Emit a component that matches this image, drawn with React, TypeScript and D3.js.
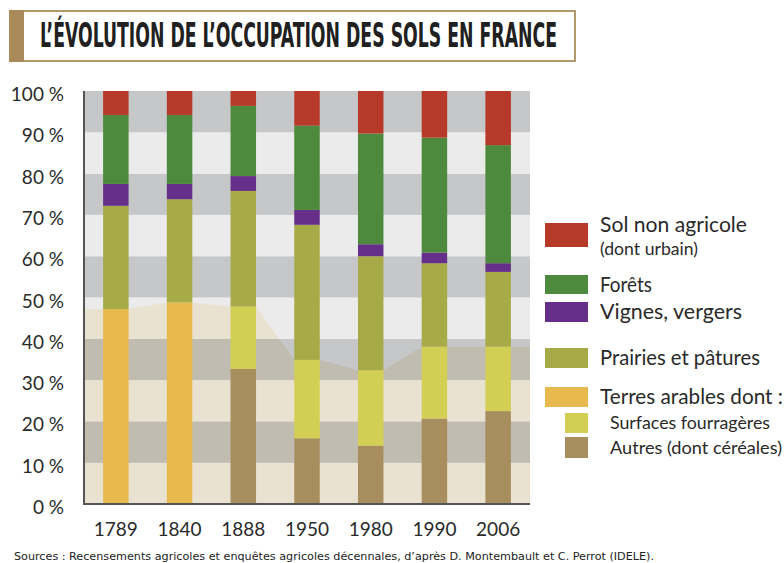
import React, { useEffect, useRef, useState } from 'react';
import * as d3 from 'd3';

const years = ['1789', '1840', '1888', '1950', '1980', '1990', '2006'];
// segment values in % (bottom to top)
const terresArables = [47.2, 48.8, 0, 0, 0, 0, 0];
const autres = [0, 0, 32.7, 15.9, 14.1, 20.7, 22.5];
const fourrageres = [0, 0, 15.1, 19.0, 18.3, 17.4, 15.6];
const prairies = [25.0, 25.0, 28.0, 32.7, 27.6, 20.2, 18.1];
const vignes = [5.3, 3.7, 3.6, 3.6, 2.9, 2.6, 2.1];
const forets = [16.7, 16.7, 17.0, 20.4, 26.8, 27.8, 28.6];
const solNonAgricole = [5.8, 5.8, 3.6, 8.4, 10.3, 11.3, 13.1];
const yTicks = [0, 10, 20, 30, 40, 50, 60, 70, 80, 90, 100];

const keys = ['terres', 'autres', 'fourrageres', 'prairies', 'vignes', 'forets', 'sol'];
const colors: Record<string, string> = {
  terres: '#e8b94f',
  autres: '#a88e5f',
  fourrageres: '#d3cf55',
  prairies: '#a6aa47',
  vignes: '#66308a',
  forets: '#4e8a3d',
  sol: '#b7392a',
};

const legendKeys = ['sol', 'forets', 'vignes', 'prairies', 'terres', 'fourrageres', 'autres'];
const legendLabels = [
  'Sol non agricole',
  'Forêts',
  'Vignes, vergers',
  'Prairies et pâtures',
  'Terres arables dont :',
  'Surfaces fourragères',
  'Autres (dont céréales)',
];
const legendSub = '(dont urbain)';
const titleText = 'L’ÉVOLUTION DE L’OCCUPATION DES SOLS EN FRANCE';
const sourceText = 'Sources : Recensements agricoles et enquêtes agricoles décennales, d’après D. Montembault et C. Perrot (IDELE).';

const FONT = 'Lato, "Open Sans", sans-serif';
const NARROW = '"Liberation Sans Narrow", "DejaVu Sans Condensed", sans-serif';

export default function App() {
  const left = 84, right = 530, top = 91, bottom = 504;
  const x = d3.scaleBand<string>().domain(years).range([left, right]).paddingInner(0.6).paddingOuter(0.3);
  const y = d3.scaleLinear().domain([0, 100]).range([bottom, top]);

  const titleRef = useRef<SVGTextElement>(null);
  const [titleScale, setTitleScale] = useState(1);
  useEffect(() => {
    if (titleRef.current) {
      const len = titleRef.current.getComputedTextLength();
      if (len > 0) setTitleScale(517 / len);
    }
  }, []);

  const rows = years.map((yr, i) => ({
    year: yr,
    terres: terresArables[i],
    autres: autres[i],
    fourrageres: fourrageres[i],
    prairies: prairies[i],
    vignes: vignes[i],
    forets: forets[i],
    sol: solNonAgricole[i],
  }));
  const series = d3.stack<any>().keys(keys)(rows);

  // arable total outline across the background
  const arableTotals = years.map((_, i) => terresArables[i] + autres[i] + fourrageres[i]);
  const pts: [number, number][] = [];
  pts.push([left, arableTotals[0]]);
  years.forEach((yr, i) => {
    const x0 = x(yr)!;
    pts.push([x0, arableTotals[i]]);
    pts.push([x0 + x.bandwidth(), arableTotals[i]]);
  });
  pts.push([right, arableTotals[arableTotals.length - 1]]);
  const areaGen = d3.area<[number, number]>().x(d => d[0]).y0(y(0)).y1(d => y(d[1]));
  const areaPath = areaGen(pts) || '';

  const bands = d3.range(10).map(i => ({ v0: i * 10, v1: i * 10 + 10, dark: i % 2 === 1 }));

  // legend layout
  const lgY = [223, 275, 302, 348, 387, 413, 437];
  const lgH = [24, 19, 20, 20, 20, 20, 21];
  const lgW = [147, 52, 142, 160, 183, 160, 172];
  const lgSmall = [false, false, false, false, false, true, true];

  return (
    <svg width={784} height={563} style={{ position: 'absolute', left: 0, top: 0, background: '#fff' }}>
      <defs>
        <clipPath id="arableClip">
          <path d={areaPath} />
        </clipPath>
      </defs>
      {/* Title */}
      <rect x={10} y={11} width={565} height={50} fill="#fff" stroke="#b39a6e" strokeWidth={2} />
      <rect x={9} y={10} width={15} height={52} fill="#a98a5a" />
      <g transform={`translate(40,47) scale(${titleScale},1)`}>
        <text ref={titleRef} x={0} y={0} fontFamily={NARROW} fontWeight="bold" fontSize={33} fill="#202020">
          {titleText}
        </text>
      </g>

      {/* background bands */}
      {bands.map(b => (
        <rect key={'b' + b.v0} x={left} y={y(b.v1)} width={right - left} height={y(b.v0) - y(b.v1)}
          fill={b.dark ? '#c6c7c9' : '#ebebec'} />
      ))}
      <g clipPath="url(#arableClip)">
        {bands.map(b => (
          <rect key={'bb' + b.v0} x={left} y={y(b.v1)} width={right - left} height={y(b.v0) - y(b.v1)}
            fill={b.dark ? '#c0bcb0' : '#e9e2d1'} />
        ))}
      </g>

      {/* bars */}
      {series.map(s => (
        <g key={s.key} fill={colors[s.key]}>
          {s.map((d, i) => (
            d[1] - d[0] > 0 ? (
              <rect key={i} x={x(years[i])!} y={y(d[1])} width={x.bandwidth()} height={y(d[0]) - y(d[1])} />
            ) : null
          ))}
        </g>
      ))}

      {/* axes */}
      <line x1={left} x2={left} y1={top} y2={bottom + 1} stroke="#555" strokeWidth={2} />
      <line x1={left - 1} x2={right} y1={bottom} y2={bottom} stroke="#555" strokeWidth={2} />

      {yTicks.map(t => (
        <text key={'yt' + t} x={64} y={y(t) + 10} textAnchor="end" fontFamily={FONT} fontSize={19} fill="#2a2a2a">
          {t} %
        </text>
      ))}
      {years.map(yr => (
        <text key={'xt' + yr} x={x(yr)! + x.bandwidth() / 2} y={536} textAnchor="middle" fontFamily={FONT} fontSize={19} fill="#2a2a2a">
          {yr}
        </text>
      ))}

      {/* legend */}
      {legendKeys.map((k, i) => {
        const small = lgSmall[i];
        const sx = small ? 565 : 545;
        const sw = small ? 23 : 43;
        const cy = lgY[i] + lgH[i] / 2;
        const tx = small ? 610 : 600;
        const ty = i === 0 ? 232 : cy + (small ? 6 : 7);
        return (
          <g key={k}>
            <rect x={sx} y={lgY[i]} width={sw} height={lgH[i]} fill={colors[k]} />
            <text x={tx} y={ty} fontFamily={FONT} fontSize={small ? 17 : 20.5} fill="#2a2a2a"
              textLength={lgW[i]} lengthAdjust="spacingAndGlyphs">
              {legendLabels[i]}
            </text>
            {i === 0 ? (
              <text x={600} y={255} fontFamily={FONT} fontSize={16.5} fill="#2a2a2a" textLength={98} lengthAdjust="spacingAndGlyphs">
                {legendSub}
              </text>
            ) : null}
          </g>
        );
      })}

      {/* source */}
      <text x={14} y={560} fontFamily={NARROW} fontSize={11} fill="#222"
        textLength={640} lengthAdjust="spacingAndGlyphs">
        {sourceText}
      </text>
    </svg>
  );
}
